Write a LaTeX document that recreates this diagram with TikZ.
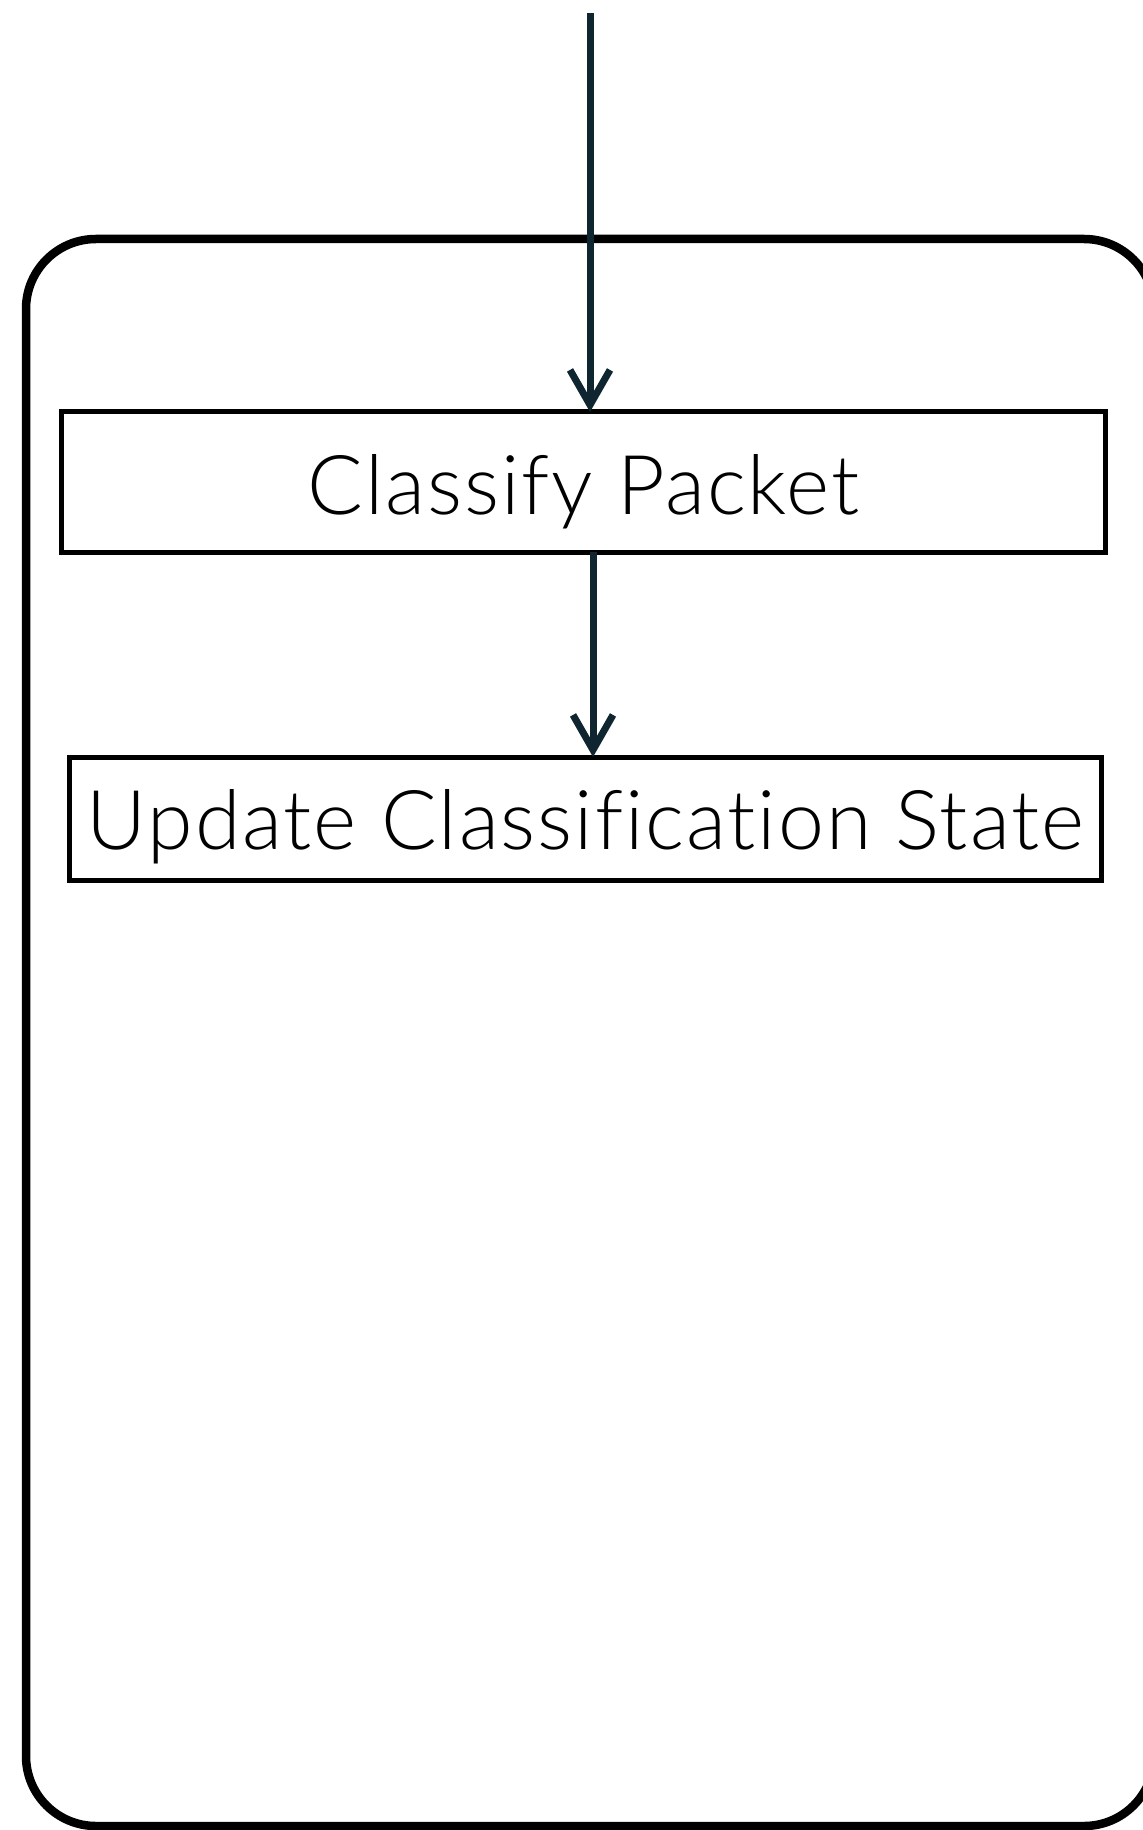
\documentclass[tikz,border=0pt]{standalone}
\usepackage{fontspec}
\setmainfont{Lato Light}[Ligatures=NoCommon, LetterSpace=2.3]
\usetikzlibrary{arrows.meta}
\definecolor{arrowink}{HTML}{0F2530}
\tikzset{
  stepbox/.style={draw=black, line width=2pt, inner sep=0pt, outer sep=0pt,
                  text depth=0pt, font=\fontsize{33}{38}\selectfont},
  flow/.style={draw=arrowink, line width=2.8pt,
               -{Straight Barb[length=14pt,width=16pt,line width=2.8pt]}},
  frame/.style={draw=black, line width=3.4pt, rounded corners=28pt}
}
\begin{document}
\begin{tikzpicture}[x=0.4pt,y=-0.4pt]
  \useasboundingbox (0,0) rectangle (1143,1830);
  % outer rounded container
  \draw[frame] (26,239) rectangle (1154,1826);
  % process steps
  \node[stepbox, minimum width=417.2pt, minimum height=56pt, text height=26.4pt]
    (cls) at (583.5,482) {Classify Packet};
  \node[stepbox, minimum width=412.4pt, minimum height=49.4pt, text height=24.8pt]
    (upd) at (585.5,818.75) {Update Classification State};
  % connectors
  \coordinate (in) at (590,13);
  \coordinate (mid) at (593,0);
  \draw[flow] (in) -- (in |- cls.north);
  \draw[flow] (cls.south -| mid) -- (upd.north -| mid);
\end{tikzpicture}
\end{document}
